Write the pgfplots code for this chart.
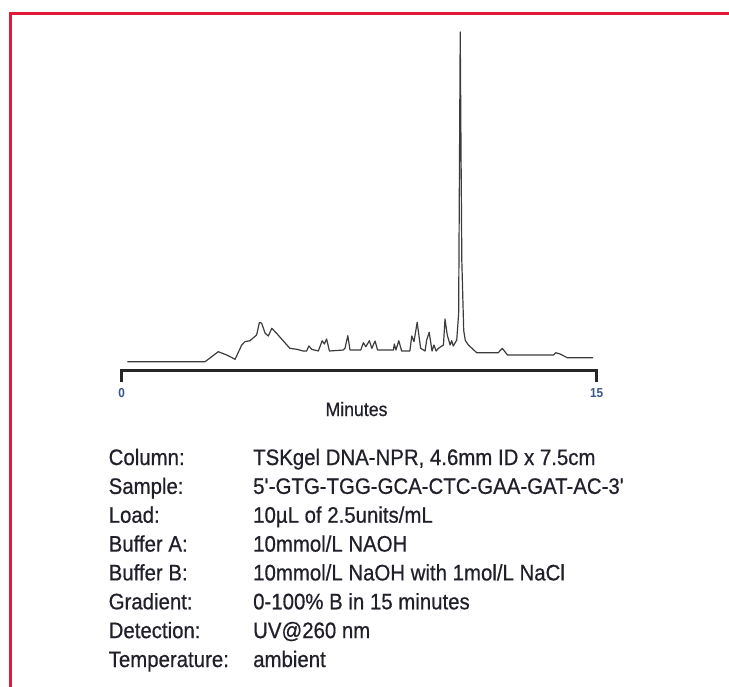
\documentclass[border=0pt]{standalone}
\usepackage{fontspec}
\setmainfont[FakeStretch=0.91]{Liberation Sans}
\newfontfamily\infofont[FakeStretch=0.91, FakeBold=0.6]{Liberation Sans}
\usepackage{pgfplots}
\pgfplotsset{compat=1.18}
\definecolor{framered}{RGB}{227,24,55}
\definecolor{txt}{RGB}{32,32,42}
\definecolor{ticktxt}{RGB}{55,85,135}
\definecolor{trace}{RGB}{60,60,60}
\begin{document}
\begin{tikzpicture}[x=1bp,y=1bp]
\path[use as bounding box] (0,0) rectangle (729,-687);
\draw[framered, line width=3.5bp] (10.5,-687) -- (10.5,-13.5) -- (729,-13.5);
\begin{axis}[
  at={(121.7bp,-370.5bp)}, anchor=south west,
  scale only axis, width=475bp, height=340bp,
  xmin=0, xmax=15, ymin=0, ymax=340,
  enlargelimits=false, clip=false,
  axis x line*=bottom, hide y axis,
  axis line style={line width=3bp, color=black!85, line cap=rect},
  xtick={0,15},
  tick align=outside,
  major tick length=11.5bp,
  tick style={line width=3bp, color=black!85},
  /pgf/number format/assume math mode=true,
  xticklabel style={font=\fontsize{13}{13}\selectfont\bfseries, text=ticktxt, anchor=base, yshift=-15.5bp},
]
\addplot[color=trace, line width=1.2bp, line join=round] coordinates {
(0.177,8.8) (2.63,8.8) (3.05,18.8) (3.32,15.5) (3.58,11.2) (3.79,25.5) (3.89,28.8)
(4.05,29.8) (4.26,35.5) (4.35,48.2) (4.42,47.2) (4.53,37.2) (4.63,34.5) (4.74,42.2)
(4.89,37.2) (5.31,22.2) (5.53,21.2) (5.73,19.5) (5.84,19.5) (5.91,24.5) (6.00,21.2)
(6.21,19.5) (6.33,29.8) (6.40,26.5) (6.47,31.5) (6.56,19.5) (7.00,20.5) (7.05,22.2)
(7.14,34.8) (7.21,20.5) (7.55,20.5) (7.63,27.8) (7.71,23.8) (7.82,29.8) (7.90,22.2)
(8.00,29.5) (8.08,20.5) (8.58,20.5) (8.61,26.5) (8.66,20.5) (8.75,29.8) (8.84,19.5)
(9.10,19.5) (9.16,34.5) (9.23,28.8) (9.33,48.2) (9.44,22.2) (9.58,19.5) (9.63,30.5)
(9.71,38.2) (9.80,19.5) (9.86,25.5) (9.93,19.5) (10.00,22.2) (10.16,25.5) (10.21,51.5)
(10.28,35.5) (10.37,25.5) (10.42,29.8) (10.47,24.5) (10.58,30.5) (10.64,57)
(10.69,338.5) (10.715,220) (10.74,110) (10.80,40) (10.85,30) (10.95,25.5)
(11.21,17.8) (11.89,17.8) (12.02,22.2) (12.18,15.5) (13.63,15.5) (13.71,17.8)
(13.84,16.5) (14.07,12.8) (14.89,12.8)
};
\end{axis}
\node[anchor=base, text=txt, font=\infofont\fontsize{19.5}{19.5}\selectfont] at (356.5,-416) {Minutes};
\begin{scope}[every node/.style={anchor=base west, text=txt, inner sep=0pt, font=\infofont\fontsize{22.5}{22.5}\selectfont}]
\node at (108.5,-465.0) {Column:};      \node at (253,-465.0) {TSKgel DNA-NPR, 4.6mm ID x 7.5cm};
\node at (108.5,-493.9) {Sample:};      \node at (253,-493.9) {5\textquotesingle-GTG-TGG-GCA-CTC-GAA-GAT-AC-3\textquotesingle};
\node at (108.5,-522.7) {Load:};        \node at (253,-522.7) {10µL of 2.5units/mL};
\node at (108.5,-551.6) {Buffer A:};    \node at (253,-551.6) {10mmol/L NAOH};
\node at (108.5,-580.4) {Buffer B:};    \node at (253,-580.4) {10mmol/L NaOH with 1mol/L NaCl};
\node at (108.5,-609.3) {Gradient:};    \node at (253,-609.3) {0-100\% B in 15 minutes};
\node at (108.5,-638.1) {Detection:};   \node at (253,-638.1) {UV@260 nm};
\node at (108.5,-667.0) {Temperature:}; \node at (253,-667.0) {ambient};
\end{scope}
\end{tikzpicture}
\end{document}
